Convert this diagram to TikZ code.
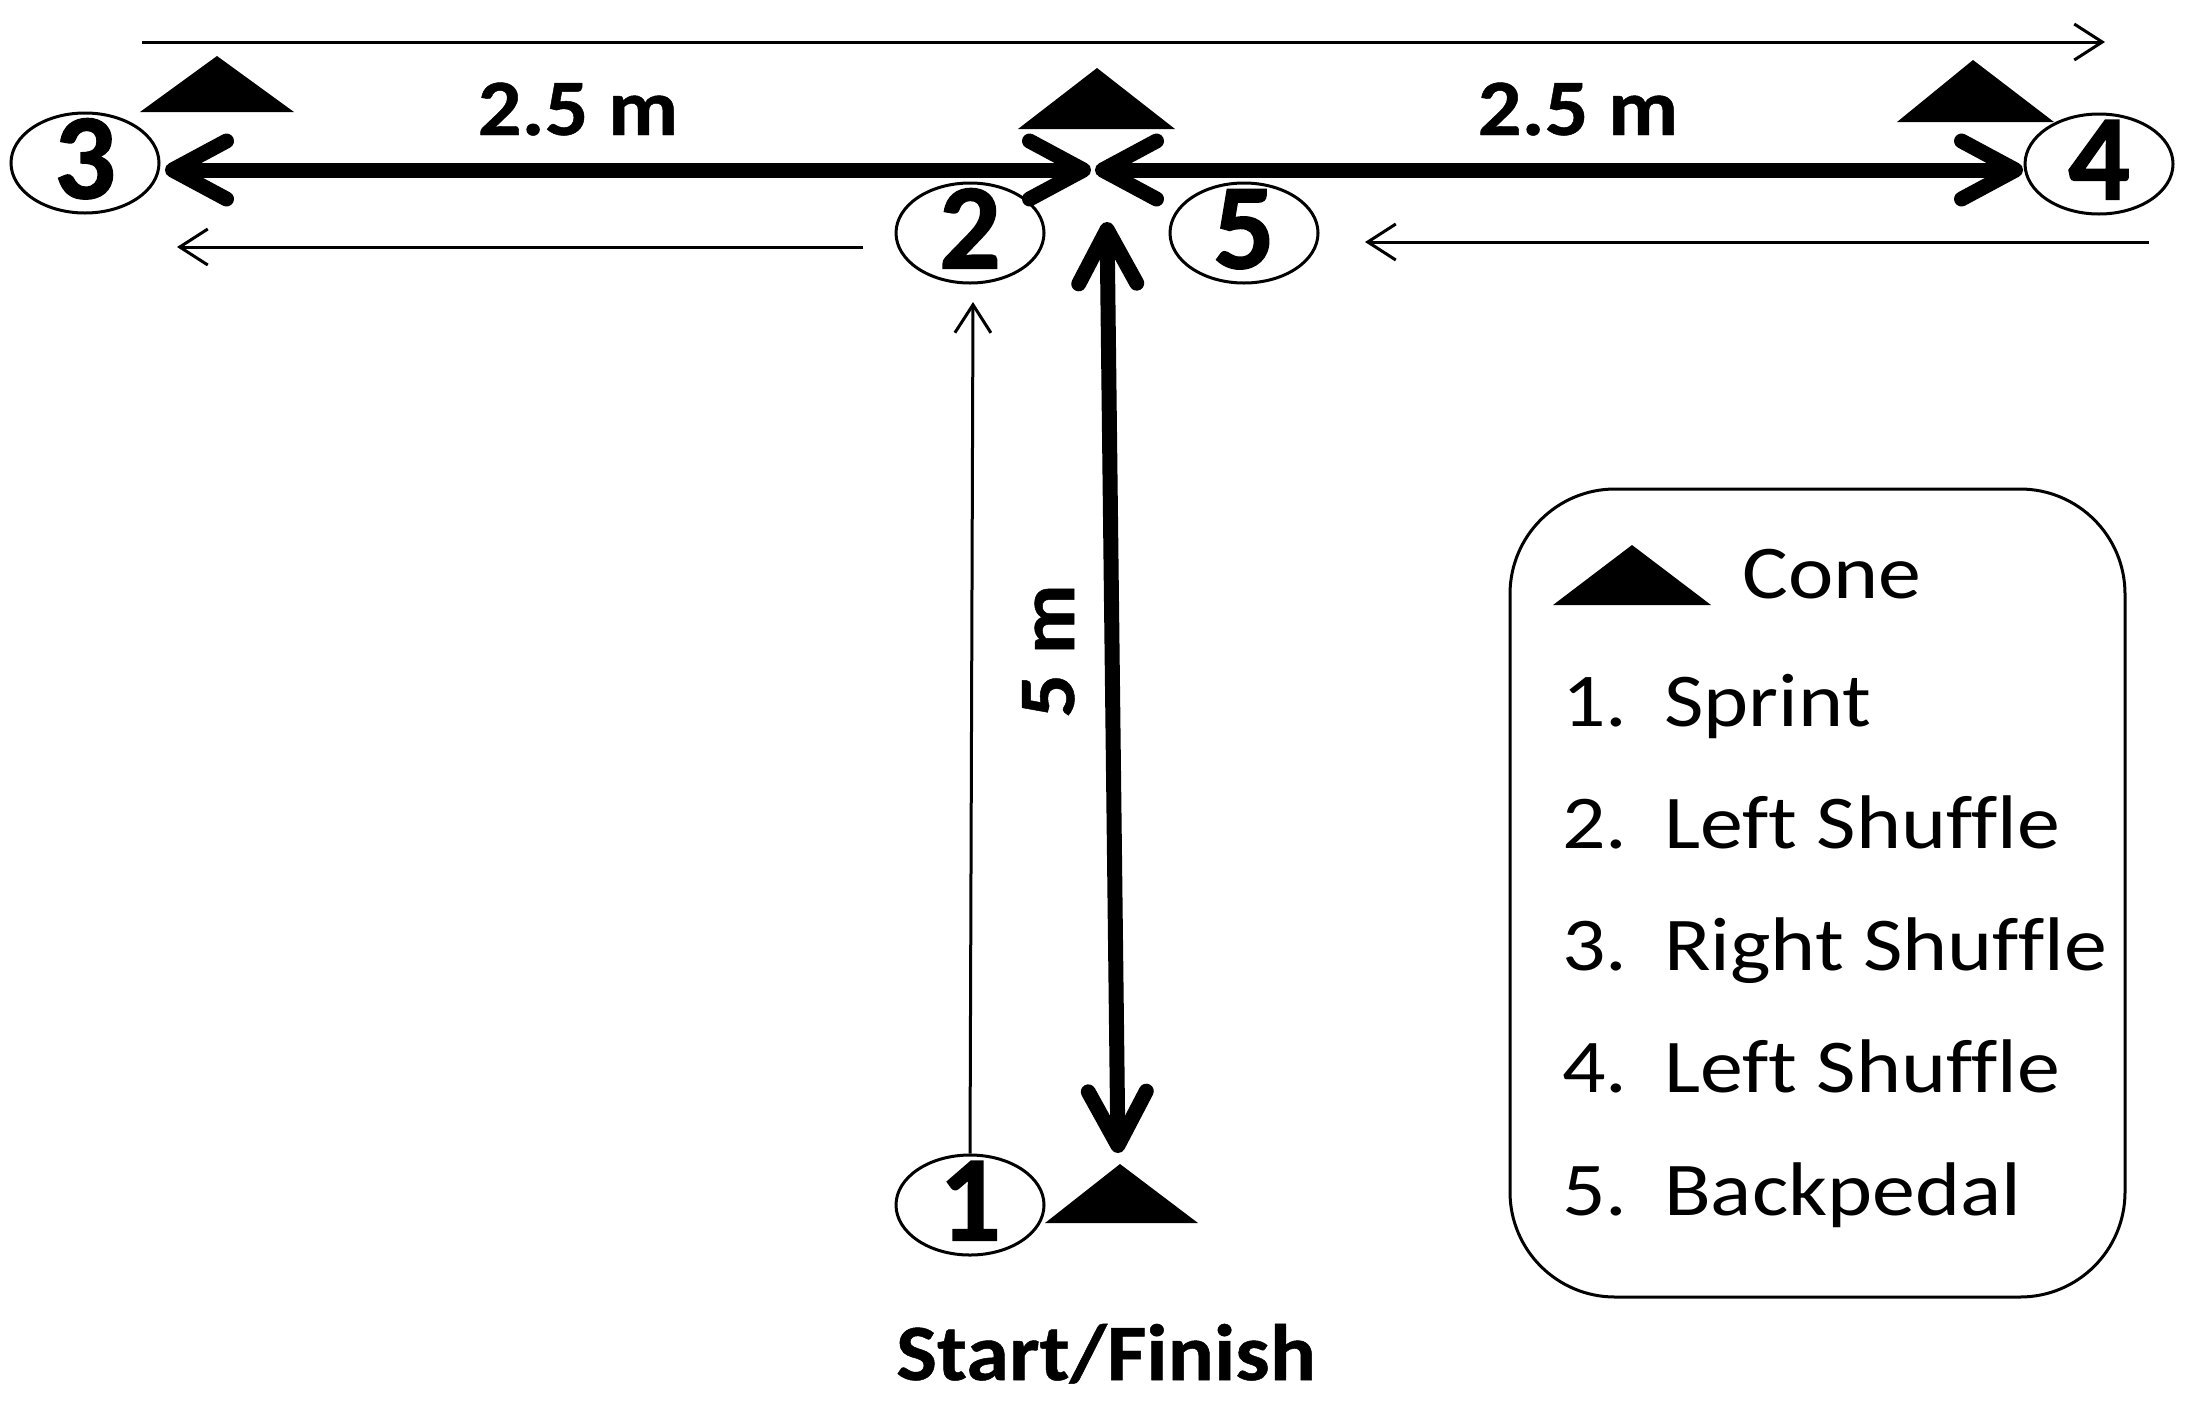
\documentclass[tikz,border=0pt]{standalone}
\usepackage{fontspec}
\setmainfont{Carlito}
\newfontfamily\legfont{Carlito}[FakeStretch=1.13,Ligatures=NoCommon]
\newfontfamily\lblfont{Carlito}[Ligatures=NoCommon,BoldFeatures={FakeStretch=1.08,FakeBold=0.6}]
\newfontfamily\digfont{Carlito}[BoldFeatures={FakeBold=1.2}]
\newcommand\digit[1]{\smash{\raisebox{-0.29em}{\makebox[0pt]{#1}}}}
\usetikzlibrary{shapes.geometric,arrows.meta}
\tikzset{
  stn/.style={draw=black,line width=3pt,ellipse,fill=white,minimum width=148pt,minimum height=100pt,inner sep=0pt,font=\fontsize{122}{122}\selectfont\digfont\bfseries},
  thinarrow/.style={draw=black,line width=3pt,-{Straight Barb[length=28pt,width=36pt,line width=3pt]}},
  thickarrow/.style={draw=black,line width=15pt,{Straight Barb[length=54pt,width=58pt,line width=15pt,round]}-{Straight Barb[length=54pt,width=58pt,line width=15pt,round]}},
  cone/.style={fill=black},
  lbl/.style={font=\fontsize{80}{80}\selectfont\lblfont\bfseries,anchor=base,inner sep=0pt},
  legendtxt/.style={font=\fontsize{76}{76}\selectfont\legfont,anchor=base west,inner sep=0pt},
  legendbox/.style={draw=black,line width=3pt,rounded corners=105pt}
}
\begin{document}
\begin{tikzpicture}[x=1pt,y=-1pt]
\useasboundingbox (0,0) rectangle (2191,1406);
% cones
\fill[cone] (140,112) -- (217,56) -- (294,112) -- cycle;
\fill[cone] (1018,129) -- (1097,68) -- (1175,129) -- cycle;
\fill[cone] (1897,122) -- (1973,60) -- (2054,122) -- cycle;
\fill[cone] (1045,1223) -- (1120,1164) -- (1198,1223) -- cycle;
% free ends
\coordinate (topL) at (142,42);
\coordinate (topR) at (2105,42);
\coordinate (hLa) at (165,170);
\coordinate (hLb) at (1091,170);
\coordinate (hRa) at (1095,170);
\coordinate (hRb) at (2023,170);
\coordinate (vT) at (1107,222);
\coordinate (vB) at (1118,1153);
\coordinate (lowLa) at (863,247);
\coordinate (lowLb) at (177,247);
\coordinate (lowRa) at (2149,242);
\coordinate (lowRb) at (1365,242);
\coordinate (upT) at (973,302);
% stations
\node[stn] (n3) at (85,163) {\digit{3}};
\node[stn] (n4) at (2099,164) {\digit{4}};
\node[stn] (n2) at (970,233) {\digit{2}};
\node[stn] (n5) at (1244,233) {\digit{5}};
\node[stn] (n1) at (970,1205) {\digit{1}};
% connectors
\draw[thinarrow] (topL) -- (topR);
\draw[thickarrow] (hLa) -- (hLb);
\draw[thickarrow] (hRa) -- (hRb);
\draw[thickarrow] (vT) -- (vB);
\draw[thinarrow] (lowLa) -- (lowLb);
\draw[thinarrow] (lowRa) -- (lowRb);
\draw[thinarrow] (n1.north) -- (upT);
% labels
\node[lbl] (dL) at (578,135) {2.5 m};
\node[lbl] (dR) at (1578,135) {2.5 m};
\node[lbl,rotate=90] (dV) at (1074,651) {5 m};
\node[lbl] (sf) at (1106,1380) {Start/Finish};
% legend
\draw[legendbox] (1510,489) rectangle (2125,1297);
\fill[cone] (1553,605) -- (1632,545) -- (1711,605) -- cycle;
\node[legendtxt] (lc) at (1742,598) {Cone};
\node[legendtxt] (l1n) at (1562,726) {1.};
\node[legendtxt] (l1) at (1664,726) {Sprint};
\node[legendtxt] (l2n) at (1562,848) {2.};
\node[legendtxt] (l2) at (1664,848) {Left Shuffle};
\node[legendtxt] (l3n) at (1562,970) {3.};
\node[legendtxt] (l3) at (1664,970) {Right Shuffle};
\node[legendtxt] (l4n) at (1562,1092) {4.};
\node[legendtxt] (l4) at (1664,1092) {Left Shuffle};
\node[legendtxt] (l5n) at (1562,1215) {5.};
\node[legendtxt] (l5) at (1664,1215) {Backpedal};
\end{tikzpicture}
\end{document}
